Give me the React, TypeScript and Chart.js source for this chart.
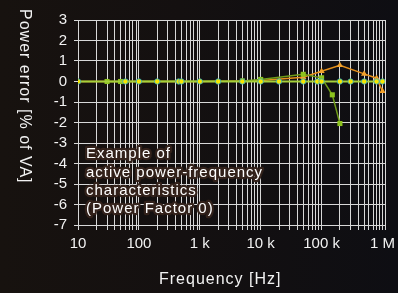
import React, { useEffect, useRef } from "react";
import { Chart, registerables } from "chart.js";

Chart.register(...registerables);

// ---- data ----
const xMajorTicks = [10, 100, 1000, 10000, 100000, 1000000];
const xMajorLabels = ["10", "100", "1 k", "10 k", "100 k", "1 M"];
const yTickMin = -7;
const yTickMax = 3;

const refFreqs = [10, 60, 100, 200, 450, 500, 1000, 2000, 5000, 10000, 20000, 50000, 85000, 100000, 200000, 300000, 500000, 800000, 1000000];
const refValues = [0, 0, 0, 0, 0, 0, 0, 0, 0, 0, 0, 0, 0, 0, 0, 0, 0, 0, 0];

const greenFreqs = [30, 50, 5000, 10000, 50000, 100000, 150000, 200000];
const greenValues = [0, 0, 0.03, 0.1, 0.35, 0.18, -0.65, -2.05];

const orangeFreqs = [10, 1000, 5000, 10000, 50000, 100000, 200000, 500000, 800000, 1000000];
const orangeValues = [0, 0, 0.03, 0.05, 0.21, 0.5, 0.79, 0.37, 0.16, -0.47];

const annotationLines = ["Example of", "active power-frequency", "characteristics", "(Power Factor 0)"];
const xTitle = "Frequency [Hz]";
const yTitle = "Power error [% of VA]";

const FONT = "'Liberation Sans', Arial, Helvetica, sans-serif";
const GRID = "#d8d8d8";
const TEXT = "#f2f2f2";

function toPoints(xs: number[], ys: number[]) {
  return xs.map((x, i) => ({ x, y: ys[i] }));
}

function allLogTicks(): number[] {
  const out: number[] = [];
  for (let e = 1; e < 6; e++) {
    for (let m = 1; m < 10; m++) out.push(m * Math.pow(10, e));
  }
  out.push(1000000);
  out.push(1100000);
  return out;
}

const textPlugin = {
  id: "customText",
  afterDraw(chart: any) {
    const ctx = chart.ctx as CanvasRenderingContext2D;
    ctx.save();
    (ctx as any).letterSpacing = "1px";
    // x title
    ctx.font = `16px ${FONT}`;
    ctx.fillStyle = TEXT;
    ctx.textAlign = "left";
    ctx.textBaseline = "alphabetic";
    ctx.fillText(xTitle, 159, 284);
    // y title rotated clockwise
    ctx.save();
    ctx.translate(19.5, 9);
    ctx.rotate(Math.PI / 2);
    ctx.fillText(yTitle, 0, 0);
    ctx.restore();
    // annotation
    ctx.font = `15px ${FONT}`;
    ctx.lineJoin = "round";
    ctx.lineWidth = 4.5;
    ctx.strokeStyle = "rgba(52,34,27,0.97)";
    const baselines = [158.3, 176.5, 194.7, 212.9];
    annotationLines.forEach((line, i) => {
      ctx.strokeText(line, 86, baselines[i]);
    });
    ctx.fillStyle = "#ffffff";
    annotationLines.forEach((line, i) => {
      ctx.fillText(line, 86, baselines[i]);
    });
    ctx.restore();
  },
};

export default function App() {
  const canvasRef = useRef<HTMLCanvasElement | null>(null);

  useEffect(() => {
    document.body.style.margin = "0";
    document.body.style.background = "#120f0f";
    const canvas = canvasRef.current;
    if (!canvas) return;
    const chart = new Chart(canvas, {
      type: "line",
      data: {
        datasets: [
          {
            data: toPoints(refFreqs, refValues),
            borderColor: "#a6d03a",
            borderWidth: 2,
            pointRadius: 2.7,
            pointBackgroundColor: "#f7e600",
            pointBorderColor: "#22a6cc",
            pointBorderWidth: 0.8,
            tension: 0,
          },
          {
            data: toPoints(greenFreqs, greenValues),
            borderColor: "#6f9c18",
            borderWidth: 1.5,
            pointStyle: "rect",
            pointRadius: 3.6,
            pointBackgroundColor: "#8cc21e",
            pointBorderColor: "#8cc21e",
            pointBorderWidth: 0,
            tension: 0,
          },
          {
            data: toPoints(orangeFreqs, orangeValues),
            borderColor: "#e5901c",
            borderWidth: 1.5,
            pointStyle: "triangle",
            pointRadius: 3.6,
            pointBackgroundColor: "#f3a22c",
            pointBorderColor: "#f3a22c",
            pointBorderWidth: 0,
            tension: 0,
          },
        ] as any,
      },
      options: {
        responsive: false,
        animation: false,
        layout: { padding: { left: 0, right: 13, top: 20, bottom: 0 } },
        plugins: { legend: { display: false }, tooltip: { enabled: false } },
        scales: {
          x: {
            type: "logarithmic",
            min: 10,
            max: 1100000,
            afterBuildTicks: (scale: any) => {
              scale.ticks = allLogTicks().map((v) => ({ value: v }));
            },
            afterFit: (scale: any) => {
              scale.height = 68;
            },
            ticks: {
              autoSkip: false,
              maxRotation: 0,
              minRotation: 0,
              padding: 5,
              color: TEXT,
              font: { family: FONT, size: 15 },
              callback: (value: any) => {
                const idx = xMajorTicks.findIndex((t) => Math.abs(t - Number(value)) < 1e-6 * t);
                return idx >= 0 ? xMajorLabels[idx] : "";
              },
            },
            grid: { color: GRID, lineWidth: 1, tickLength: 5, drawTicks: true },
            border: { display: true, color: GRID },
          },
          y: {
            type: "linear",
            min: yTickMin,
            max: yTickMax,
            afterFit: (scale: any) => {
              scale.width = 78;
            },
            ticks: {
              stepSize: 1,
              autoSkip: false,
              padding: 7,
              color: TEXT,
              font: { family: FONT, size: 15 },
            },
            grid: { color: GRID, lineWidth: 1, tickLength: 4, drawTicks: true },
            border: { display: true, color: GRID },
          },
        },
      } as any,
      plugins: [textPlugin],
    });
    return () => chart.destroy();
  }, []);

  return (
    <div
      style={{
        width: 398,
        height: 293,
        background: "linear-gradient(90deg, #17120f 0%, #141010 45%, #0e0e13 100%)",
      }}
    >
      <canvas ref={canvasRef} width={398} height={293} style={{ display: "block", width: 398, height: 293 }} />
    </div>
  );
}
